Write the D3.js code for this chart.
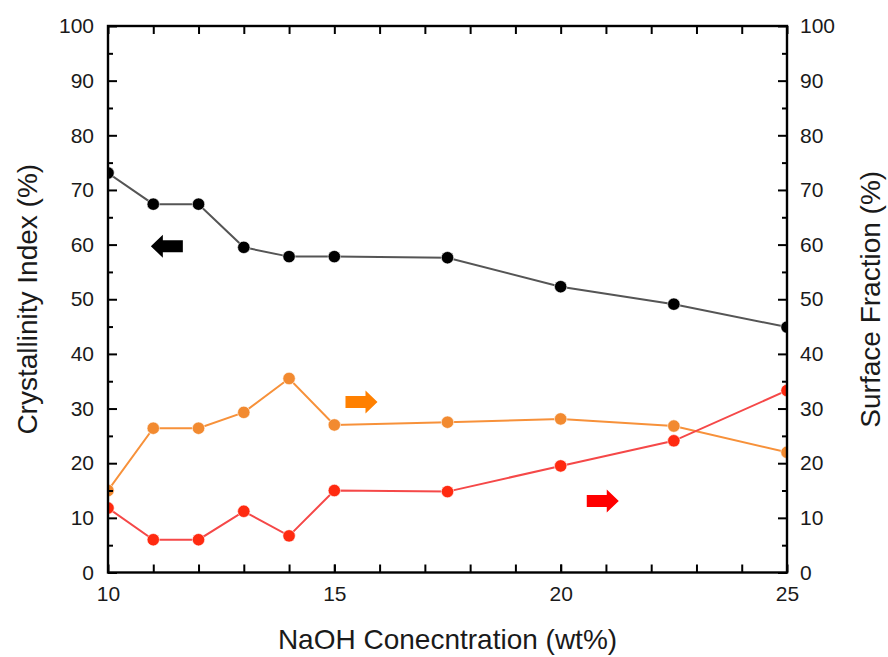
<!DOCTYPE html>
<html>
<head>
<meta charset="utf-8">
<script src="https://cdn.jsdelivr.net/npm/d3@7"></script>
<style>
  html, body { margin: 0; padding: 0; background: #fff; }
  svg { display: block; font-family: Arial, "Liberation Sans", sans-serif; }
</style>
</head>
<body>
<svg id="chart" width="888" height="657"></svg>
<script>
// NaOH concentration (wt%)
const naoh = [10, 11, 12, 13, 14, 15, 17.5, 20, 22.5, 25];
// Crystallinity index (%) - left axis
const crystallinity = [73.1, 67.4, 67.4, 59.5, 57.8, 57.8, 57.6, 52.3, 49.1, 44.9];
// Surface fractions (%) - right axis
const surfaceOrange = [15.0, 26.4, 26.4, 29.3, 35.5, 27.0, 27.5, 28.1, 26.8, 22.0];
const surfaceRed = [11.8, 6.0, 6.0, 11.2, 6.7, 15.0, 14.8, 19.5, 24.1, 33.3];

const xTicks = [10, 15, 20, 25];
const yTicks = [0, 10, 20, 30, 40, 50, 60, 70, 80, 90, 100];

const svg = d3.select("#chart");
const margin = { left: 108, right: 888 - 787, top: 26, bottom: 657 - 572.5 };
const W = 888 - margin.left - margin.right;
const H = 657 - margin.top - margin.bottom;

const x = d3.scaleLinear().domain([10, 25]).range([0, W]);
const yL = d3.scaleLinear().domain([0, 100]).range([H, 0]);
const yR = d3.scaleLinear().domain([0, 100]).range([H, 0]);

const g = svg.append("g").attr("transform", `translate(${margin.left},${margin.top})`);

g.append("clipPath").attr("id", "plotClip")
  .append("rect").attr("width", W).attr("height", H);

const plot = g.append("g").attr("clip-path", "url(#plotClip)");

const series = [
  { vals: crystallinity, y: yL, line: "#555555", fill: "#000000" },
  { vals: surfaceOrange, y: yR, line: "#F7913A", fill: "#F28A30" },
  { vals: surfaceRed, y: yR, line: "#F54848", fill: "#FF2A10" }
];

series.forEach(s => {
  const pts = naoh.map((v, i) => [v, s.vals[i]]);
  plot.append("path")
    .datum(pts)
    .attr("fill", "none")
    .attr("stroke", s.line)
    .attr("stroke-width", 2)
    .attr("d", d3.line().x(d => x(d[0])).y(d => s.y(d[1])));
  plot.selectAll(null).data(pts).enter().append("circle")
    .attr("cx", d => x(d[0]))
    .attr("cy", d => s.y(d[1]))
    .attr("r", 6.2)
    .attr("fill", s.fill)
    .attr("stroke", "#fff")
    .attr("stroke-width", 0.6);
});

// Direction arrows showing which axis each series belongs to
const arrows = [
  { x: 11.3, y: 59.7, dir: -1, color: "#000000", scale: yL },
  { x: 15.6, y: 31.2, dir: 1, color: "#FF8000", scale: yR },
  { x: 20.93, y: 13.1, dir: 1, color: "#FF0000", scale: yR }
];
arrows.forEach(a => {
  const cx = x(a.x), cy = a.scale(a.y);
  const L = 32, hw = 11.5, bw = 6, hl = 12;
  const d = a.dir;
  const tip = cx + d * L / 2, tail = cx - d * L / 2, neck = tip - d * hl;
  const pts = [
    [tail, cy - bw], [neck, cy - bw], [neck, cy - hw], [tip, cy],
    [neck, cy + hw], [neck, cy + bw], [tail, cy + bw]
  ];
  g.append("polygon").attr("points", pts.map(p => p.join(",")).join(" "))
    .attr("fill", a.color);
});

// Axes
const tickFont = "21px";
const axStroke = 2.4;

function styleAxis(sel) {
  sel.select(".domain").remove();
  sel.selectAll("line").attr("stroke", "#000").attr("stroke-width", 2);
  sel.selectAll("text").attr("font-size", tickFont).attr("fill", "#1a1a1a")
    .attr("font-family", "Arial, 'Liberation Sans', sans-serif");
}

// Bottom: major labelled ticks + minor ticks, pointing inward
const xb = g.append("g").attr("transform", `translate(0,${H})`)
  .call(d3.axisBottom(x).tickValues(xTicks).tickSize(-8).tickPadding(14).tickFormat(d3.format("d")));
styleAxis(xb);
g.append("g").attr("transform", `translate(0,${H})`)
  .call(d3.axisBottom(x).tickValues(d3.range(11, 25)).tickSize(-8).tickFormat(""))
  .call(s => styleAxis(s));

// Top: ticks only
g.append("g")
  .call(d3.axisTop(x).tickValues(d3.range(10, 26)).tickSize(-8).tickFormat(""))
  .call(s => styleAxis(s));

// Left
const yl = g.append("g")
  .call(d3.axisLeft(yL).tickValues(yTicks).tickSize(-9).tickPadding(14).tickFormat(d3.format("d")));
styleAxis(yl);
g.append("g").call(d3.axisLeft(yL).tickValues(d3.range(5, 100, 10)).tickSize(-5).tickFormat(""))
  .call(s => styleAxis(s));

// Right
const yr = g.append("g").attr("transform", `translate(${W},0)`)
  .call(d3.axisRight(yR).tickValues(yTicks).tickSize(-9).tickPadding(13).tickFormat(d3.format("d")));
styleAxis(yr);
g.append("g").attr("transform", `translate(${W},0)`)
  .call(d3.axisRight(yR).tickValues(d3.range(5, 100, 10)).tickSize(-5).tickFormat(""))
  .call(s => styleAxis(s));

// Frame
g.append("rect").attr("width", W).attr("height", H)
  .attr("fill", "none").attr("stroke", "#000").attr("stroke-width", axStroke);

// Axis titles
const titleFont = "28px";
g.append("text")
  .attr("x", W / 2).attr("y", H + 76)
  .attr("text-anchor", "middle").attr("font-size", titleFont).attr("fill", "#1a1a1a")
  .text("NaOH Conecntration (wt%)");
g.append("text")
  .attr("transform", `translate(${-71},${H / 2}) rotate(-90)`)
  .attr("text-anchor", "middle").attr("font-size", titleFont).attr("fill", "#1a1a1a")
  .text("Crystallinity Index (%)");
g.append("text")
  .attr("transform", `translate(${W + 93},${H / 2}) rotate(-90)`)
  .attr("text-anchor", "middle").attr("font-size", titleFont).attr("fill", "#1a1a1a")
  .text("Surface Fraction (%)");
</script>
</body>
</html>
